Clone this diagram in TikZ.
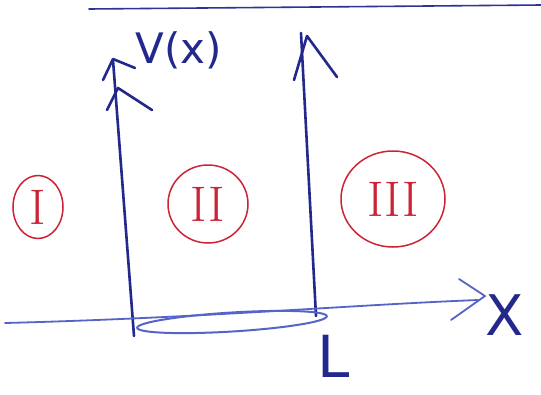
\documentclass[tikz,border=0pt]{standalone}
\usetikzlibrary{shapes.geometric}
\usepackage{fontspec}
\newfontfamily\handfont{DejaVu Sans}
\definecolor{navy}{RGB}{35,40,140}
\definecolor{penblue}{RGB}{85,100,200}
\definecolor{penred}{RGB}{205,35,55}
\begin{document}
\begin{tikzpicture}[x=1pt,y=-1pt,
  ink/.style={draw=navy,line width=2.6pt,line cap=round,line join=round},
  thin ink/.style={draw=penblue,line width=1.8pt,line cap=round,line join=round},
  region/.style={draw=penred,line width=1.5pt,ellipse,inner sep=0pt,text=penred,font=\fontsize{50}{50}\selectfont},
  lbl/.style={text=navy,inner sep=0pt}]
\useasboundingbox (0,0) rectangle (541,394);
\fill[white] (0,0) rectangle (541,394);
% top line
\coordinate (t1) at (89,9);
\coordinate (t2) at (541,5);
\draw[thin ink,draw=navy!80!penblue,line width=1.6pt] (t1) -- (t2);
% V axis
\coordinate (v0) at (134,336);
\coordinate (v1) at (113,60);
\draw[ink] (v0) -- (v1);
\draw[ink] (103,80) -- (113,59) -- (135,68);
\draw[ink] (107,110) -- (118,88) -- (152,110);
% right wall
\coordinate (w0) at (316,316);
\coordinate (w1) at (301,33);
\draw[ink] (w0) -- (w1);
\draw[ink] (294,80) -- (307,36) -- (337,77);
% x axis
\coordinate (x0) at (5,323);
\coordinate (x1) at (478,300);
\draw[thin ink] (x0) .. controls (200,318) and (350,305) .. (x1);
\draw[thin ink] (459,279) -- (485,296) -- (451,320);
% ellipse (shaded well)
\node[draw=penblue,line width=2pt,ellipse,minimum width=190pt,minimum height=19pt,rotate=3.5] (well) at (232,322) {};
% labels
\node[lbl,font=\handfont\fontsize{42}{42}\selectfont] (vx) at (179,50) {V(x)};
\node[lbl,font=\handfont\fontsize{56}{56}\selectfont] (xl) at (505,315) {X};
\node[lbl,font=\handfont\fontsize{58}{58}\selectfont] (ll) at (334,356) {L};
% regions
\node[region,minimum width=50pt,minimum height=63pt] (r1) at (38,207) {I};
\node[region,minimum width=80pt,minimum height=78pt] (r2) at (208,204) {II};
\node[region,minimum width=104pt,minimum height=96pt] (r3) at (393,199) {III};
\end{tikzpicture}
\end{document}
